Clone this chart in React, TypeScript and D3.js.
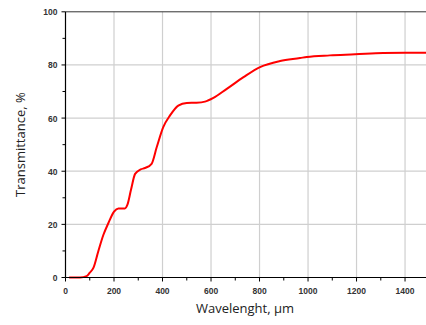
import React from "react";
import * as d3 from "d3";

const wavelength = [15, 60, 87, 100, 115, 135, 156, 177, 200, 218, 245, 255, 270, 287, 310, 328, 355, 376, 403, 431, 465, 500, 540, 575, 610, 665, 734, 802, 885, 967, 995, 1090, 1194, 1310, 1400, 1500];
const transmittance = [0, 0, 0.5, 1.8, 3.6, 9.8, 16, 20.5, 24.8, 26, 26, 27.3, 33, 39, 40.7, 41.2, 42.8, 49, 56.6, 61, 64.7, 65.7, 65.8, 66.2, 67.6, 71, 75.4, 79.2, 81.5, 82.6, 83, 83.6, 84, 84.5, 84.6, 84.6];
const xTicks = [0, 200, 400, 600, 800, 1000, 1200, 1400];
const xMinor = [100, 300, 500, 700, 900, 1100, 1300, 1500];
const yTicks = [0, 20, 40, 60, 80, 100];
const yMinor = [10, 30, 50, 70, 90];

export default function App() {
  const W = 426, H = 325;
  const x = d3.scaleLinear().domain([0, 1500]).range([65.5, 429.3]);
  const y = d3.scaleLinear().domain([0, 100]).range([277.5, 11.8]);
  const data = wavelength.map((w, i) => [w, transmittance[i]] as [number, number]);
  const line = d3.line<[number, number]>().x(d => x(d[0])).y(d => y(d[1])).curve(d3.curveMonotoneX);
  const tickFont = "'Liberation Sans', Arial, sans-serif";
  const titleFont = "'Open Sans', 'Noto Sans', sans-serif";
  return (
    <svg width={W} height={H} style={{ position: "absolute", left: 0, top: 0, background: "#fff" }}>
      {xTicks.filter(t => t > 0).map(t => (
        <line key={"gx" + t} x1={x(t)} x2={x(t)} y1={y(0)} y2={y(100)} stroke="#cfcfcf" strokeWidth={1.2} />
      ))}
      {yTicks.filter(t => t > 0 && t < 100).map(t => (
        <line key={"gy" + t} x1={x(0)} x2={W} y1={y(t)} y2={y(t)} stroke="#cfcfcf" strokeWidth={1.2} />
      ))}
      <line x1={x(0)} x2={W} y1={y(100)} y2={y(100)} stroke="#333" strokeWidth={1} />
      <path d={line(data) || ""} fill="none" stroke="#ff0000" strokeWidth={2} />
      <line x1={x(0)} x2={W} y1={y(0)} y2={y(0)} stroke="#000" strokeWidth={1.2} />
      <line x1={x(0)} x2={x(0)} y1={y(0)} y2={y(100)} stroke="#000" strokeWidth={1.2} />
      {xTicks.map(t => (
        <g key={"tx" + t}>
          <line x1={x(t)} x2={x(t)} y1={y(0)} y2={y(0) + 4} stroke="#000" strokeWidth={1} />
          <text x={x(t)} y={y(0) + 16} textAnchor="middle" fontFamily={tickFont} fontSize={8.5} fontWeight="bold" fill="#333">{t}</text>
        </g>
      ))}
      {xMinor.map(t => (
        <line key={"mx" + t} x1={x(t)} x2={x(t)} y1={y(0)} y2={y(0) + 3} stroke="#000" strokeWidth={1} />
      ))}
      {yTicks.map(t => (
        <g key={"ty" + t}>
          <line x1={x(0) - 4} x2={x(0)} y1={y(t)} y2={y(t)} stroke="#000" strokeWidth={1} />
          <text x={x(0) - 8} y={y(t) + 3.5} textAnchor="end" fontFamily={tickFont} fontSize={8.5} fontWeight="bold" fill="#333">{t}</text>
        </g>
      ))}
      {yMinor.map(t => (
        <line key={"my" + t} x1={x(0) - 3} x2={x(0)} y1={y(t)} y2={y(t)} stroke="#000" strokeWidth={1} />
      ))}
      <text x={245} y={313} textAnchor="middle" fontFamily={titleFont} fontSize={13} fill="#222">Wavelenght, µm</text>
      <text transform={`translate(25,${y(50)}) rotate(-90)`} textAnchor="middle" fontFamily={titleFont} fontSize={13} fill="#222">Transmittance, %</text>
    </svg>
  );
}
